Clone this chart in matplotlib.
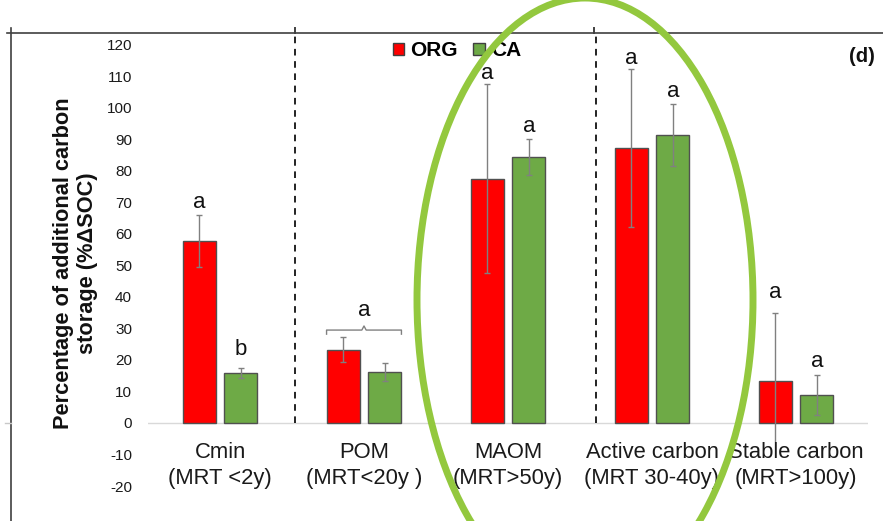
import matplotlib
matplotlib.use("Agg")
import matplotlib.pyplot as plt
from matplotlib.patches import Patch, Ellipse
from matplotlib.lines import Line2D

plt.rcParams['font.family'] = ['Liberation Sans', 'DejaVu Sans']

# ---- data ----
categories = ["Cmin", "POM", "MAOM", "Active carbon", "Stable carbon"]
mrt_labels = ["(MRT <2y)", "(MRT<20y )", "(MRT>50y)", "(MRT 30-40y)", "(MRT>100y)"]
org_values = [57.8, 23.3, 77.5, 87.3, 13.3]
org_errors = [8.3, 4.0, 30.0, 25.0, 21.6]
ca_values = [15.9, 16.2, 84.4, 91.4, 8.9]
ca_errors = [1.5, 2.9, 5.6, 9.8, 6.3]
org_letters = ["a", None, "a", "a", "a"]
ca_letters = ["b", None, "a", "a", "a"]
org_letter_y = [68.3, None, 109.2, 114.0, 39.7]
ca_letter_y = [21.6, None, 92.4, 103.5, 17.8]
pom_letter = "a"
pom_letter_y = 34.0
pom_bracket_y = 29.5
yticks = list(range(-20, 121, 10))
divider_x = [0.52, 2.61]

W, H = 883, 521
fig = plt.figure(figsize=(W / 100, H / 100), dpi=100)

def fx(px):
    return px / W

def fy(py):
    return 1 - py / H

ax = fig.add_axes([fx(148), fy(486), fx(720), (486 - 33) / H])
ax.set_xlim(-0.5, 4.5)
ax.set_ylim(-20, 123.8)
for s in ax.spines.values():
    s.set_visible(False)
ax.set_xticks([])
ax.set_yticks(yticks)
ax.set_yticklabels([str(t) for t in yticks], fontsize=11, color='#1a1a1a')
ax.tick_params(axis='y', length=0, pad=11.5)

red = '#FF0000'
green = '#6EAA46'
offset = 0.145
bw = 0.23
xs = list(range(len(categories)))

ax.axhline(0, color='#d9d9d9', lw=1, zorder=0)

err_kw = dict(ecolor='#808080', elinewidth=1.0, capsize=2.2, capthick=1.0)
ax.bar([x - offset for x in xs], org_values, bw, color=red, edgecolor='#505050',
       linewidth=1, yerr=org_errors, error_kw=err_kw, zorder=2)
ax.bar([x + offset for x in xs], ca_values, bw, color=green, edgecolor='#505050',
       linewidth=1, yerr=ca_errors, error_kw=err_kw, zorder=2)

# significance letters
for i in xs:
    if org_letters[i]:
        ax.text(i - offset, org_letter_y[i], org_letters[i], ha='center',
                va='baseline', fontsize=16, color='#111111')
    if ca_letters[i]:
        ax.text(i + offset, ca_letter_y[i], ca_letters[i], ha='center',
                va='baseline', fontsize=16, color='#111111')

# bracket over POM pair
bx0, bx1 = 1 - offset - bw / 2, 1 + offset + bw / 2
ax.plot([bx0, bx0, 0.985, 1.0, 1.015, bx1, bx1],
        [pom_bracket_y - 1.3, pom_bracket_y, pom_bracket_y, pom_bracket_y + 1.3,
         pom_bracket_y, pom_bracket_y, pom_bracket_y - 1.3],
        color='#808080', lw=1.0, zorder=3)
ax.text(1, pom_letter_y, pom_letter, ha='center', va='baseline', fontsize=16,
        color='#111111')

# dashed dividers
for dx in divider_x:
    ax.plot([dx, dx], [0, 123.8], color='#222222', lw=1.4,
            dashes=(3.4, 2.9), zorder=1, clip_on=False)

# category labels
for i in xs:
    ax.text(i, -11.1, categories[i], ha='center', va='baseline', fontsize=15.8,
            color='#1a1a1a', zorder=4,
            bbox=dict(facecolor='white', edgecolor='none', pad=0))
    ax.text(i, -19.4, mrt_labels[i], ha='center', va='baseline', fontsize=15.8,
            color='#1a1a1a', zorder=4)

# legend
handles = [Patch(facecolor=red, edgecolor='#404040', lw=1, label='ORG'),
           Patch(facecolor=green, edgecolor='#404040', lw=1, label='CA')]
leg = ax.legend(handles=handles, ncol=2, frameon=False, loc='center',
                bbox_to_anchor=(fx(457), fy(51)), bbox_transform=fig.transFigure,
                prop=dict(weight='bold', size=15), handlelength=0.55,
                handleheight=0.55, handletextpad=0.3, columnspacing=0.75,
                borderpad=0, borderaxespad=0)

fig.text(fx(862), fy(56), "(d)", ha='center', va='center', fontsize=14.5,
         fontweight='bold', color='#111111')

# y-axis title
fig.text(fx(64), fy(263), "Percentage of additional carbon", rotation=90,
         ha='center', va='center', fontsize=15.7, fontweight='bold', color='#111111')
fig.text(fx(87), fy(263), "storage (%ΔSOC)", rotation=90,
         ha='center', va='center', fontsize=15.7, fontweight='bold', color='#111111')

# outer frame
frame = '#404040'
fig.add_artist(Line2D([fx(7), fx(883)], [fy(33), fy(33)], color=frame, lw=1.2))
fig.add_artist(Line2D([fx(11), fx(11)], [fy(28), fy(521)], color=frame, lw=1.2))
for tx in (295, 594):
    fig.add_artist(Line2D([fx(tx), fx(tx)], [fy(28), fy(33)], color=frame, lw=1.4))
fig.add_artist(Line2D([fx(5), fx(11)], [fy(423), fy(423)], color='#c8c8c8', lw=1))

# highlight ellipse
fig.add_artist(Ellipse((fx(585), fy(300)), fx(336), 604 / H, transform=fig.transFigure,
                       fill=False, edgecolor='#93C83E', lw=5, zorder=10))

fig.savefig("out.png", dpi=100)
